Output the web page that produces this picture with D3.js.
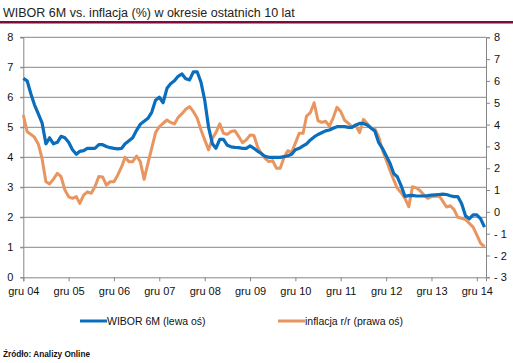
<!DOCTYPE html>
<html>
<head>
<meta charset="utf-8">
<script src="https://cdn.jsdelivr.net/npm/d3@7"></script>
<style>
  body { margin: 0; background: #fff; }
  svg { display: block; font-family: "Liberation Sans", Arial, sans-serif; }
</style>
</head>
<body>
<div id="chart"></div>
<script>
// Dane: miesięcznie od gru 2004 do lut 2015
const startYear = 2004, startMonth = 11;

const wibor = [
  6.63, 6.55, 6.1, 5.75, 5.45, 5.15, 4.45, 4.65, 4.45, 4.5, 4.7, 4.65,
  4.5, 4.25, 4.1, 4.2, 4.22, 4.3, 4.3, 4.3, 4.42, 4.42, 4.36, 4.32,
  4.3, 4.28, 4.3, 4.45, 4.55, 4.65, 4.9, 5.1, 5.2, 5.3, 5.5, 5.9,
  6.0, 5.82, 6.3, 6.45, 6.55, 6.7, 6.78, 6.62, 6.58, 6.85, 6.85, 6.5,
  5.9, 5.0, 4.45, 4.3, 4.6, 4.6, 4.4, 4.35, 4.33, 4.32, 4.3, 4.3,
  4.38, 4.3, 4.2, 4.13, 4.03, 4.0, 4.0, 4.0, 4.0, 4.02, 4.05, 4.1,
  4.25, 4.3, 4.38, 4.45, 4.58, 4.68, 4.76, 4.82, 4.88, 4.91, 4.97, 5.02,
  5.02, 5.02, 5.0, 5.0, 5.08, 5.13, 5.13, 5.08, 4.98, 4.88, 4.5, 4.3,
  4.05, 3.8, 3.45, 3.35, 3.05, 2.7, 2.72, 2.73, 2.71, 2.71, 2.71, 2.72,
  2.74, 2.75, 2.76, 2.77, 2.76, 2.72, 2.69, 2.69, 2.45, 2.05, 1.95, 2.08,
  2.08, 1.95, 1.67
];

const inflacja = [
  4.44, 3.67, 3.55, 3.42, 3.1, 2.45, 1.38, 1.28, 1.5, 1.77, 1.61, 1.0,
  0.69, 0.62, 0.7, 0.39, 0.77, 0.92, 0.85, 1.15, 1.62, 1.6, 1.23, 1.38,
  1.38, 1.69, 2.07, 2.5, 2.3, 2.3, 2.56, 2.3, 1.49, 2.23, 2.91, 3.63,
  3.9, 4.06, 4.21, 4.1, 4.03, 4.33, 4.5, 4.7, 4.82, 4.59, 4.3, 3.75,
  3.3, 2.84, 3.37, 3.63, 4.03, 3.6, 3.55, 3.68, 3.72, 3.45, 3.17, 3.3,
  3.52, 3.5, 2.96, 2.68, 2.45, 2.3, 2.35, 2.0, 2.0, 2.5, 2.8, 2.73,
  3.15, 3.6, 3.6, 4.39, 4.55, 5.0, 4.18, 4.1, 4.15, 3.93, 4.3, 4.79,
  4.6, 4.2, 4.06, 3.9, 3.95, 3.63, 4.24, 4.05, 3.83, 3.8, 3.45, 2.84,
  2.38, 1.9, 1.45, 1.08, 0.88, 0.62, 0.24, 1.15, 1.1, 0.97, 0.77, 0.62,
  0.7, 0.72, 0.72, 0.5, 0.22, 0.28, 0.1, -0.25, -0.3, -0.35, -0.52, -0.7,
  -1.06, -1.45, -1.6
];

const tickLabels = ["gru 04", "gru 05", "gru 06", "gru 07", "gru 08", "gru 09",
  "gru 10", "gru 11", "gru 12", "gru 13", "gru 14"];
const leftTicks = [0, 1, 2, 3, 4, 5, 6, 7, 8];
const rightTicks = [-3, -2, -1, 0, 1, 2, 3, 4, 5, 6, 7, 8];

const width = 513, height = 363;
const plotLeft = 23.3, plotRight = 486, plotTop = 37.3, plotBottom = 277.3;

const svg = d3.select("#chart").append("svg")
  .attr("width", width)
  .attr("height", height);

// Tytuł
svg.append("text")
  .attr("x", 3).attr("y", 17)
  .attr("font-size", "12.5px")
  .attr("fill", "#222")
  .text("WIBOR 6M vs. inflacja (%) w okresie ostatnich 10 lat");

svg.append("rect")
  .attr("x", 0).attr("y", 21)
  .attr("width", width).attr("height", 2.5)
  .attr("fill", "#7d0b3e");

const date = i => new Date(startYear, startMonth + i, 1);

const x = d3.scaleTime()
  .domain([new Date(2004, 11, 1), new Date(2015, 1, 13)])
  .range([plotLeft, plotRight]);

const yL = d3.scaleLinear().domain([0, 8]).range([plotBottom, plotTop]);
const yR = d3.scaleLinear().domain([-3, 8]).range([plotBottom, plotTop]);

const grid = "#868686";

// Linie siatki
svg.append("g")
  .selectAll("line")
  .data(leftTicks.filter(d => d > 0))
  .enter().append("line")
  .attr("x1", plotLeft - 3).attr("x2", plotRight)
  .attr("y1", d => yL(d)).attr("y2", d => yL(d))
  .attr("stroke", grid).attr("stroke-width", 1);

// Oś lewa
const axL = svg.append("g")
  .attr("transform", `translate(${plotLeft},0)`)
  .call(d3.axisLeft(yL).tickValues(leftTicks).tickSize(3).tickPadding(7));
axL.select(".domain").attr("stroke", grid);
axL.selectAll(".tick line").attr("stroke", grid);
axL.selectAll("text").attr("font-size", "11px").attr("fill", "#111")
  .attr("font-family", "Liberation Sans, Arial, sans-serif");

// Oś prawa
const axR = svg.append("g")
  .attr("transform", `translate(${plotRight},0)`)
  .call(d3.axisRight(yR).tickValues(rightTicks).tickSize(4).tickPadding(4)
    .tickFormat(d => d < 0 ? "- " + Math.abs(d) : d));
axR.select(".domain").attr("stroke", grid);
axR.selectAll(".tick line").attr("stroke", grid);
axR.selectAll("text").attr("font-size", "11px").attr("fill", "#111")
  .attr("font-family", "Liberation Sans, Arial, sans-serif");

// Oś X
const xTicks = tickLabels.map((d, i) => new Date(2004 + i, 11, 1));
const axX = svg.append("g")
  .attr("transform", `translate(0,${plotBottom})`)
  .call(d3.axisBottom(x).tickValues(xTicks).tickSize(4).tickPadding(6)
    .tickFormat((d, i) => tickLabels[i]));
axX.select(".domain").attr("stroke", grid);
axX.selectAll(".tick line").attr("stroke", grid);
axX.selectAll("text").attr("font-size", "11px").attr("fill", "#111")
  .attr("font-family", "Liberation Sans, Arial, sans-serif");

// Linie danych
const lineL = d3.line().x((d, i) => x(date(i))).y(d => yL(d));
const lineR = d3.line().x((d, i) => x(date(i))).y(d => yR(d));

svg.append("path")
  .datum(inflacja)
  .attr("d", lineR)
  .attr("fill", "none")
  .attr("stroke", "#e9955f")
  .attr("stroke-width", 3)
  .attr("stroke-linejoin", "round");

svg.append("path")
  .datum(wibor)
  .attr("d", lineL)
  .attr("fill", "none")
  .attr("stroke", "#0a6ebd")
  .attr("stroke-width", 3.2)
  .attr("stroke-linejoin", "round");

// Legenda
const legend = [
  { label: "WIBOR 6M (lewa oś)", color: "#0a6ebd", x: 80 },
  { label: "inflacja r/r (prawa oś)", color: "#e9955f", x: 278 }
];
const lg = svg.append("g").selectAll("g")
  .data(legend)
  .enter().append("g")
  .attr("transform", d => `translate(${d.x},321)`);
lg.append("line")
  .attr("x1", 0).attr("x2", 27)
  .attr("stroke", d => d.color).attr("stroke-width", 3);
lg.append("text")
  .attr("x", 27).attr("dy", "0.35em")
  .attr("font-size", "10.5px").attr("fill", "#111")
  .text(d => d.label);

// Źródło
svg.append("text")
  .attr("x", 3).attr("y", 357)
  .attr("font-size", "9.5px")
  .attr("font-weight", "bold")
  .attr("textLength", 87)
  .attr("lengthAdjust", "spacingAndGlyphs")
  .attr("fill", "#111")
  .text("Źródło: Analizy Online");
</script>
</body>
</html>
